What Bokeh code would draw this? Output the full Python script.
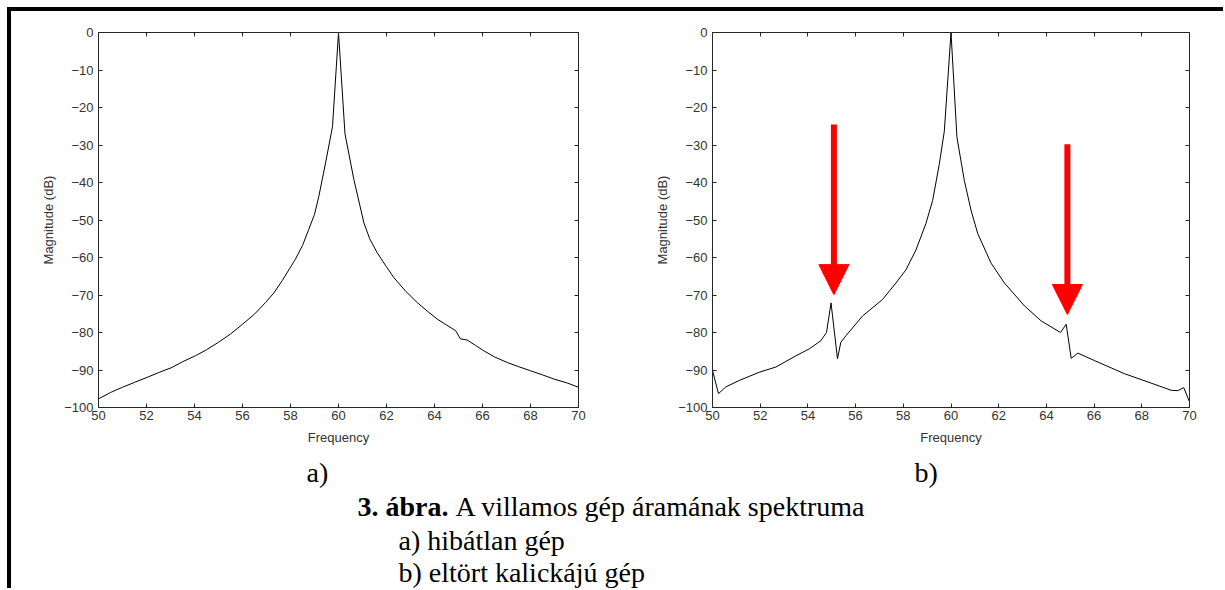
from bokeh.plotting import figure
from bokeh.models import (Range1d, FixedTicker, LinearAxis, CustomJSTickFormatter,
                          Arrow, NormalHead, ColumnDataSource, Label, Div, Spacer)
from bokeh.layouts import column, row
from bokeh.embed import file_html
from bokeh.resources import INLINE

# ---------------- data ----------------
# a) healthy machine
freq_a = [50.0, 50.5, 51.0, 51.5, 52.05, 52.5, 53.07, 53.5, 54.04, 54.5, 55.0, 55.5,
          56.0, 56.5, 56.96, 57.3, 57.65, 58.2, 58.5, 58.76, 59.0, 59.18, 59.46, 59.75,
          60.0, 60.27, 60.64, 61.06, 61.3, 61.61, 62.0, 62.31, 62.8, 63.28, 63.7, 64.11,
          64.5, 64.88, 65.08, 65.36, 65.7, 66.06, 66.5, 67.03, 67.5, 68.0, 68.5, 68.97,
          69.5, 70.0]
mag_a = [-97.7, -96.0, -94.6, -93.3, -91.9, -90.7, -89.3, -87.8, -86.2, -84.6, -82.6, -80.4,
         -77.8, -75.1, -72.0, -69.5, -66.2, -60.5, -56.8, -52.5, -48.5, -43.7, -34.8, -25.1,
         0.0, -27.0, -39.2, -50.8, -55.0, -58.7, -62.5, -65.4, -69.0, -72.0, -74.3, -76.4,
         -78.0, -79.5, -81.7, -82.0, -83.4, -84.9, -86.5, -88.0, -89.1, -90.2, -91.3, -92.4,
         -93.4, -94.6]

# b) broken-rotor-bar machine
freq_b = [50.0, 50.25, 50.56, 51.12, 51.96, 52.66, 53.5, 54.05, 54.54, 54.78, 54.97, 55.24,
          55.38, 55.59, 56.29, 57.13, 57.69, 58.11, 58.53, 58.95, 59.23, 59.51, 59.72, 60.0,
          60.25, 60.56, 60.84, 61.12, 61.68, 62.24, 63.08, 63.78, 64.59, 64.83, 65.04, 65.32,
          66.02, 67.28, 68.26, 69.23, 69.51, 69.76, 70.0]
mag_b = [-90.1, -96.3, -94.5, -92.8, -90.6, -89.2, -86.2, -84.4, -82.2, -80.0, -72.1, -87.0,
         -82.6, -80.9, -75.6, -71.2, -66.8, -63.3, -58.0, -50.9, -44.8, -35.1, -26.3, 0.0,
         -28.0, -39.5, -47.4, -53.6, -61.5, -66.8, -72.9, -76.9, -80.0, -77.8, -86.9, -85.5,
         -87.5, -91.0, -93.2, -95.4, -95.5, -94.7, -98.5]

# arrows marking the sideband peaks (plot b)
arrow_x = [55.09, 64.88]
arrow_top = [-24.5, -29.8]
arrow_tip = [-69.9, -75.2]

x_ticks = [50, 52, 54, 56, 58, 60, 62, 64, 66, 68, 70]
y_ticks = [-100, -90, -80, -70, -60, -50, -40, -30, -20, -10, 0]

x_label = "Frequency"
y_label = "Magnitude (dB)"
sub_a = "a)"
sub_b = "b)"
cap_bold = "3. ábra."
cap_text = "A villamos gép áramának spektruma"
cap_line2 = "a) hibátlan gép"
cap_line3 = "b) eltört kalickájú gép"

# ---------------- styling helpers ----------------
AX_COL = "#262626"
LBL_COL = "#333333"
SANS = "Liberation Sans"
SERIF = "Liberation Serif"


def style_axis(ax, ticks, show_labels=True):
    ax.ticker = FixedTicker(ticks=ticks)
    ax.axis_line_color = AX_COL
    ax.axis_line_width = 1
    ax.major_tick_line_color = AX_COL
    ax.major_tick_in = 4
    ax.major_tick_out = 0
    ax.minor_tick_line_color = None
    ax.major_label_text_font = SANS
    ax.major_label_text_font_size = "13px"
    ax.major_label_text_color = LBL_COL
    if not show_labels:
        ax.formatter = CustomJSTickFormatter(code="return ''")
        ax.major_label_standoff = 0


def make_plot(fx, my, width, height, bl, br, bt, bb):
    p = figure(width=width, height=height, output_backend="svg", toolbar_location=None,
               x_range=Range1d(50, 70), y_range=Range1d(-100, 0),
               min_border_left=bl, min_border_right=br, min_border_top=bt, min_border_bottom=bb,
               background_fill_color="white", border_fill_color="white")
    p.outline_line_color = None
    p.xgrid.visible = False
    p.ygrid.visible = False
    p.line(fx, my, line_color="black", line_width=1)

    xa = p.xaxis[0]
    ya = p.yaxis[0]
    style_axis(xa, x_ticks)
    style_axis(ya, y_ticks)
    xa.major_label_standoff = 3
    ya.major_label_standoff = 5
    xa.axis_label = x_label
    ya.axis_label = y_label
    for ax in (xa, ya):
        ax.axis_label_text_font = SANS
        ax.axis_label_text_font_size = "13px"
        ax.axis_label_text_font_style = "normal"
        ax.axis_label_text_color = LBL_COL
    xa.axis_label_standoff = 7
    ya.axis_label_standoff = 5

    top = LinearAxis()
    style_axis(top, x_ticks, show_labels=False)
    p.add_layout(top, "above")
    right = LinearAxis()
    style_axis(right, y_ticks, show_labels=False)
    p.add_layout(right, "right")
    return p


# page layout (body margin is 0): bars at x 7-11 / y 7-11, content from (11, 11)
# figure a: frame x 98-578, y 31-407; canvas x 11-640, y 11-455
pa = make_plot(freq_a, mag_a, width=629, height=444, bl=87, br=62, bt=20, bb=48)
# figure b: frame x 712-1189, y 32-410; canvas x 640-1223
pb = make_plot(freq_b, mag_b, width=583, height=444, bl=72, br=34, bt=21, bb=45)

arrow_src = ColumnDataSource(dict(x0=arrow_x, y0=arrow_top, x1=arrow_x, y1=arrow_tip))
pb.add_layout(Arrow(source=arrow_src, x_start="x0", y_start="y0", x_end="x1", y_end="y1",
                    line_color="#ff0000", line_width=6,
                    end=NormalHead(size=30, fill_color="#ff0000", line_color="#ff0000",
                                   line_width=1)))

# caption figure: page coordinates x 11-1223, y 455-588
pc = figure(width=1212, height=133, output_backend="svg", toolbar_location=None,
            x_range=Range1d(11, 1223), y_range=Range1d(588, 455),
            min_border=0, x_axis_type=None, y_axis_type=None,
            background_fill_color="white", border_fill_color="white")
pc.outline_line_color = None
pc.xgrid.visible = False
pc.ygrid.visible = False


def cap(x, y, t, style="normal"):
    pc.add_layout(Label(x=x, y=y, text=t, text_font=SERIF, text_font_size="28px",
                        text_font_style=style, text_color="black",
                        text_baseline="alphabetic", text_align="left"))


cap(306, 472, sub_a)
cap(914, 472, sub_b)
cap(357, 506, cap_bold, "bold")
cap(455, 506, cap_text)
cap(398, 540, cap_line2)
cap(398, 572, cap_line3)

top_bar = Div(width=1216, height=4, margin=0, styles={"background-color": "black"})
left_bar = Div(width=4, height=577, margin=0, styles={"background-color": "black"})

layout = column(
    Spacer(width=1, height=7, margin=0),
    row(Spacer(width=7, height=1, margin=0), top_bar),
    row(Spacer(width=7, height=1, margin=0), left_bar, column(row(pa, pb), pc)),
)

with open("out.html", "w") as f:
    f.write(file_html(layout, INLINE))
